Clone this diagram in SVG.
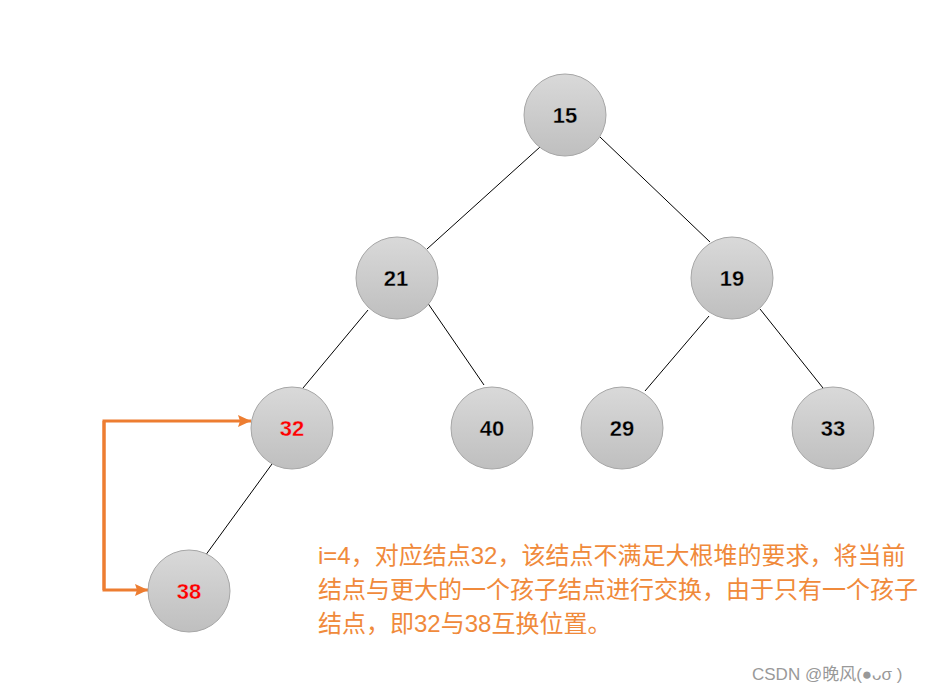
<svg xmlns="http://www.w3.org/2000/svg" width="935" height="694" viewBox="0 0 935 694">
<defs>
<linearGradient id="g" x1="0" y1="0" x2="0" y2="1">
<stop offset="0" stop-color="#d9d9d9"/>
<stop offset="1" stop-color="#bfbfbf"/>
</linearGradient>
<marker id="arr" markerWidth="13" markerHeight="12" refX="13" refY="6" orient="auto" markerUnits="userSpaceOnUse" viewBox="0 0 13 12">
<path d="M0,0 L13,6 L0,12 L2,6 Z" fill="#ED7D31"/>
</marker>
<style>
.n circle{fill:url(#g);stroke:#a6a6a6;stroke-width:1}
.n text{font-family:"Liberation Sans",Arial,sans-serif;font-size:22px;font-weight:bold;text-anchor:middle;fill:#000;stroke:#d0d0d0;stroke-width:0.3}
.n text.red{fill:#ff0000}
.e line{stroke:#000;stroke-width:1}
.o path{fill:none;stroke:#ED7D31;stroke-width:3}
.t{font-family:"Liberation Sans","Noto Sans CJK SC",sans-serif;font-size:24px;fill:#F08A3B}
.w{font-family:"Liberation Sans","Noto Sans CJK SC",sans-serif;font-size:17px;fill:#999}
</style>
</defs>
<rect width="935" height="694" fill="#fff"/>
<g id="connectors">
<g class="e">
<line x1="540" y1="147" x2="427" y2="249"/>
<line x1="600" y1="137" x2="710" y2="242"/>
<line x1="368" y1="310" x2="303" y2="388"/>
<line x1="427" y1="302" x2="484" y2="385"/>
<line x1="709" y1="316" x2="645" y2="391"/>
<line x1="760" y1="309" x2="823" y2="388"/>
<line x1="272" y1="464" x2="205" y2="556"/>
</g>
<g class="o">
<path d="M104,590 L104,421 L251,421" marker-end="url(#arr)"/>
<path d="M104,421 L104,590 L148,590" marker-end="url(#arr)"/>
</g>
</g>
<g id="n15" class="n"><circle cx="565" cy="115" r="41"/><text x="565" y="123">15</text></g>
<g id="n21" class="n"><circle cx="397" cy="278" r="41"/><text x="396" y="286">21</text></g>
<g id="n19" class="n"><circle cx="732" cy="278" r="41"/><text x="732" y="286">19</text></g>
<g id="n32" class="n"><circle cx="292" cy="428" r="41"/><text class="red" x="292" y="436">32</text></g>
<g id="n40" class="n"><circle cx="492" cy="428" r="41"/><text x="492" y="436">40</text></g>
<g id="n29" class="n"><circle cx="622" cy="428" r="41"/><text x="622" y="436">29</text></g>
<g id="n33" class="n"><circle cx="833" cy="428" r="41"/><text x="833" y="436">33</text></g>
<g id="n38" class="n"><circle cx="189" cy="591" r="41"/><text class="red" x="189" y="599">38</text></g>
<g id="label">
<text class="t" x="318" y="564">i=4，对应结点32，该结点不满足大根堆的要求，将当前</text>
<text class="t" x="318" y="598">结点与更大的一个孩子结点进行交换，由于只有一个孩子</text>
<text class="t" x="318" y="632">结点，即32与38互换位置。</text>
</g>
<text class="w" x="752" y="680">CSDN @晚风(●ᴗσ )</text>
</svg>
